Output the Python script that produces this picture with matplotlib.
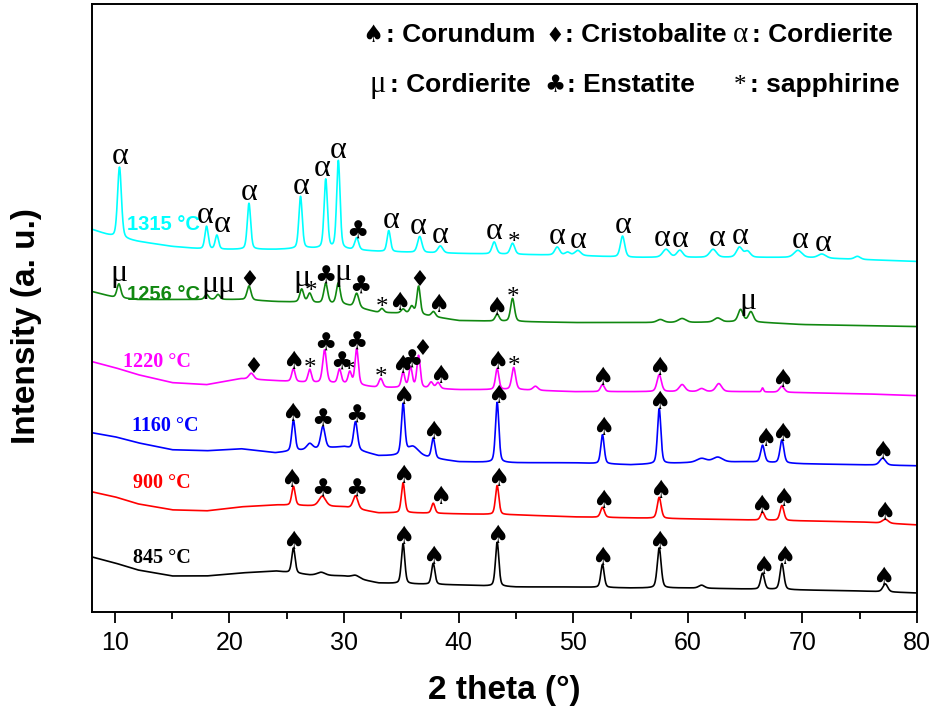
import numpy as np
import matplotlib.pyplot as plt

plt.rcParams['font.family'] = ['Liberation Sans', 'DejaVu Sans']

# baseline knots (2 theta) and baseline intensity of each pattern (a. u.)
knots = [8, 10, 12, 15, 18, 21, 24, 27, 30, 33, 36, 40, 45, 50, 55, 60, 65, 70, 75, 80]

base_845 = [55, 49, 42, 36, 36, 39, 41, 37, 36, 29, 28, 27, 25, 25, 24, 24, 23, 22, 21, 19]
base_900 = [120, 115, 108, 102, 101, 105, 107, 106, 105, 99, 99, 98, 97, 95, 94, 93, 92, 91, 90, 87]
base_1160 = [179, 175, 169, 162, 161, 163, 159, 162, 165, 156, 156, 150, 149, 149, 147, 149, 150, 148, 147, 146]
base_1220 = [250, 244, 237, 229, 227, 233, 231, 229, 228, 224, 224, 222, 222, 220, 220, 220, 220, 219, 218, 216]
base_1256 = [320, 314, 312, 312, 312, 312, 310, 309, 307, 299, 298, 291, 290, 289, 289, 289, 290, 287, 286, 285]
base_1315 = [382, 374, 370, 365, 362, 362, 362, 363, 362, 360, 359, 358, 357, 356, 354, 354, 354, 354, 352, 350]

# peaks: (2 theta, height, fwhm)
peaks_845 = [(25.58, 25, 0.35), (28.0, 3, 0.8), (31.0, 3, 0.8), (35.15, 40, 0.35), (37.78, 21, 0.35),
             (43.36, 44, 0.35), (52.55, 23, 0.35), (57.50, 40, 0.4), (61.2, 3, 0.6), (66.52, 16, 0.4),
             (68.21, 26, 0.4), (77.23, 8, 0.5)]
peaks_900 = [(25.58, 19, 0.35), (28.1, 10, 0.7), (31.0, 13, 0.5), (35.15, 30, 0.35), (37.78, 10, 0.35),
             (43.36, 29, 0.35), (52.55, 10, 0.4), (57.50, 21, 0.4), (66.52, 8, 0.4), (68.21, 15, 0.4),
             (77.23, 4, 0.6)]
peaks_1160 = [(25.58, 31, 0.35), (27.0, 6, 0.6), (28.15, 22, 0.45), (31.0, 28, 0.4), (35.15, 50, 0.35),
              (36.0, 9, 1.2), (37.78, 20, 0.35), (43.36, 60, 0.35), (52.55, 29, 0.35), (57.50, 55, 0.35),
              (61.2, 4, 1.0), (62.6, 5, 1.0), (66.52, 17, 0.4), (68.21, 23, 0.4), (77.0, 7, 0.6)]
peaks_1220 = [(21.9, 6, 0.5), (25.58, 13, 0.35), (27.0, 13, 0.35), (28.3, 33, 0.4), (29.6, 14, 0.35),
              (30.5, 12, 0.35), (31.1, 36, 0.35), (33.2, 9, 0.4), (35.15, 15, 0.35), (35.8, 20, 0.35),
              (36.5, 32, 0.35), (37.6, 6, 0.4), (38.2, 6, 0.4), (43.36, 21, 0.35), (44.8, 22, 0.4),
              (46.7, 4, 0.5), (52.55, 7, 0.4), (57.50, 17, 0.45), (59.5, 7, 0.6), (61.2, 3, 0.6),
              (62.7, 8, 0.6), (66.52, 4, 0.2), (68.21, 6, 0.5)]
peaks_1256 = [(10.35, 14, 0.4), (18.0, 5, 0.4), (19.0, 5, 0.4), (21.7, 14, 0.4), (26.3, 13, 0.4),
              (27.0, 9, 0.4), (28.4, 20, 0.4), (29.5, 21, 0.4), (31.1, 14, 0.45), (33.3, 4, 0.4),
              (35.15, 4, 0.4), (35.9, 7, 0.4), (36.5, 28, 0.35), (37.8, 5, 0.4), (43.36, 7, 0.4),
              (44.7, 23, 0.4), (57.6, 3, 0.7), (59.5, 4, 0.8), (62.6, 4, 0.7), (64.6, 12, 0.5),
              (65.5, 10, 0.5)]
peaks_1315 = [(10.4, 71, 0.4), (18.0, 23, 0.35), (18.9, 14, 0.35), (21.7, 46, 0.35), (26.2, 52, 0.35),
              (28.4, 69, 0.35), (29.5, 88, 0.35), (31.1, 12, 0.4), (33.9, 21, 0.35), (36.6, 16, 0.45),
              (38.4, 7, 0.5), (43.1, 12, 0.45), (44.7, 11, 0.45), (48.6, 8, 0.5), (49.5, 3, 0.5),
              (50.4, 5, 0.6), (54.3, 21, 0.45), (58.1, 8, 0.7), (59.3, 7, 0.6), (62.2, 8, 0.7),
              (64.5, 10, 0.6), (65.2, 6, 0.6), (69.6, 7, 0.8), (71.7, 4, 0.8), (74.8, 3, 0.6)]

# phase marks: (symbol, 2 theta of the label)
marks_845 = [("♠", 25.54), ("♠", 35.14), ("♠", 37.76), ("♠", 43.35), ("♠", 52.51), ("♠", 57.48),
             ("♠", 66.56), ("♠", 68.39), ("♠", 77.03)]
marks_900 = [("♠", 25.37), ("♣", 28.07), ("♣", 31.04), ("♠", 35.14), ("♠", 38.37), ("♠", 43.43),
             ("♠", 52.6), ("♠", 57.57), ("♠", 66.39), ("♠", 68.31), ("♠", 77.12)]
marks_1160 = [("♠", 25.45), ("♣", 28.07), ("♣", 31.04), ("♠", 35.14), ("♠", 37.76), ("♠", 43.43),
              ("♠", 52.6), ("♠", 57.48), ("♠", 66.73), ("♠", 68.22), ("♠", 76.95)]
marks_1220 = [("♦", 22.05), ("♠", 25.54), ("*", 27.03), ("♣", 28.33), ("♣", 29.73), ("*", 30.43),
              ("♣", 31.04), ("*", 33.22), ("♠", 35.06), ("♣", 35.84), ("♦", 36.8), ("♠", 38.37),
              ("♠", 43.35), ("*", 44.83), ("♠", 52.51), ("♠", 57.48), ("♠", 68.22)]
marks_1256 = [("μ", 10.36), ("μ", 18.3), ("μ", 19.7), ("♦", 21.7), ("μ", 26.33), ("*", 27.11),
              ("♣", 28.33), ("μ", 29.9), ("♣", 31.39), ("*", 33.31), ("♠", 34.79), ("♦", 36.54),
              ("♠", 38.2), ("♠", 43.26), ("*", 44.74), ("μ", 65.25)]
marks_1315 = [("α", 10.44), ("α", 17.86), ("α", 19.35), ("α", 21.7), ("α", 26.24), ("α", 28.07),
              ("α", 29.47), ("♣", 31.13), ("α", 34.1), ("α", 36.45), ("α", 38.37), ("α", 43.08),
              ("*", 44.83), ("α", 48.58), ("α", 50.41), ("α", 54.34), ("α", 57.75), ("α", 59.32),
              ("α", 62.55), ("α", 64.55), ("α", 69.8), ("α", 71.8)]

temps = ["845 °C", "900 °C", "1160 °C", "1220 °C", "1256 °C", "1315 °C"]
bases = [base_845, base_900, base_1160, base_1220, base_1256, base_1315]
peaks = [peaks_845, peaks_900, peaks_1160, peaks_1220, peaks_1256, peaks_1315]
marks = [marks_845, marks_900, marks_1160, marks_1220, marks_1256, marks_1315]

colors = ["black", "#ff0000", "#0000ff", "#ff00ff", "#118811", "#00ffff"]
label_font = ["Liberation Serif"] * 4 + ["Liberation Sans"] * 2
label_xy = [(11.6, 54), (11.6, 129), (11.5, 186), (10.7, 250), (11.05, 317), (11.05, 387)]

# symbol styles: font, size (pt) and baseline offset above peak top (pt)
suit = "DejaVu Sans"
serif = "Liberation Serif"
sym_font = {"♠": suit, "♣": suit, "♦": suit, "α": serif, "μ": serif, "*": serif}
sym_size = {"♠": 18, "♣": 18, "♦": 16, "α": 23, "μ": 23, "*": 18}
sym_off = {"♠": -0.5, "♣": -0.5, "♦": 0.0, "α": 2.0, "μ": 2.0, "*": -4.0}


def profile(x, base, plist):
    y = np.interp(x, knots, base)
    for c, h, w in plist:
        u = (x - c) / (w / 2)
        y = y + h * (0.35 / (1 + u ** 2) + 0.65 * np.exp(-np.log(2) * u ** 2))
    return y


x = np.arange(8, 80.001, 0.02)

fig = plt.figure(figsize=(9.31, 7.18), dpi=100)
ax = fig.add_axes([0.0988, 0.1476, 0.8862, 0.8468])

for i in range(6):
    y = profile(x, bases[i], peaks[i])
    ax.plot(x, y, color=colors[i], lw=1.2)
    ax.text(label_xy[i][0], label_xy[i][1], temps[i], color=colors[i], fontsize=14.5,
            fontweight="bold", family=label_font[i], ha="left", va="center")
    centres = np.array([p[0] for p in peaks[i]])
    for sym, pos in marks[i]:
        c = centres[np.argmin(np.abs(centres - pos))]
        top = profile(np.array([c]), bases[i], peaks[i])[0]
        ax.annotate(sym, (pos, top), xytext=(0, sym_off[sym]), textcoords="offset points",
                    ha="center", va="baseline", fontsize=sym_size[sym], family=sym_font[sym])

# legend of phases
legend = [("♠", ": Corundum", 0.340, 0.356, 0.937, 17),
          ("♦", ": Cristobalite", 0.561, 0.573, 0.937, 15),
          ("α", ": Cordierite", 0.786, 0.800, 0.937, 21),
          ("μ", ": Cordierite", 0.346, 0.361, 0.855, 22),
          ("♣", ": Enstatite", 0.561, 0.576, 0.855, 17),
          ("*", ": sapphirine", 0.786, 0.798, 0.855, 18)]
for sym, name, xs, xt, yb, fs in legend:
    ax.text(xs, yb, sym, transform=ax.transAxes, ha="center", va="baseline", fontsize=fs,
            family=sym_font[sym])
    ax.text(xt, yb, name, transform=ax.transAxes, ha="left", va="baseline", fontsize=19,
            fontweight="bold")

ax.set_xlim(8, 80)
ax.set_ylim(0, 607)
ax.set_xticks(range(10, 81, 10))
ax.set_xticks(range(15, 80, 10), minor=True)
ax.set_yticks([])
ax.tick_params(axis="x", which="major", direction="out", length=8, width=1.3, labelsize=18, pad=6)
ax.tick_params(axis="x", which="minor", direction="out", length=5, width=1.3)
for s in ax.spines.values():
    s.set_linewidth(1.4)

ax.set_xlabel("2 theta (°)", fontsize=24, fontweight="bold", labelpad=14)
ax.set_ylabel("Intensity (a. u.)", fontsize=24, fontweight="bold")
ax.yaxis.set_label_coords(-0.06, 0.47)

fig.savefig("out.png", dpi=100)
